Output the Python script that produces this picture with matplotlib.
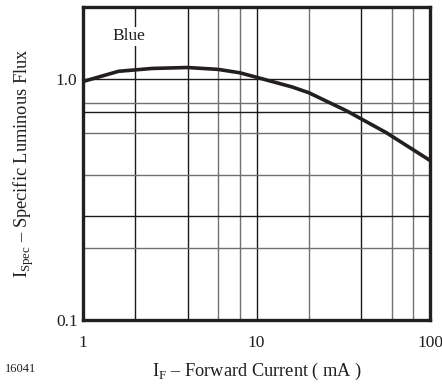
import matplotlib.pyplot as plt

plt.rcParams['font.family'] = ['Liberation Serif', 'DejaVu Serif']
plt.rcParams['mathtext.fontset'] = 'custom'
plt.rcParams['mathtext.rm'] = 'Liberation Serif'

# curve
current_ma = [1, 1.6, 2.5, 4, 6, 8, 10, 16, 20, 33, 56, 100]
rel_flux = [0.98, 1.08, 1.11, 1.12, 1.10, 1.065, 1.02, 0.93, 0.88, 0.74, 0.60, 0.46]

# grid lines as drawn (dark / light)
vgrid_dark = [2, 4, 10, 40]
vgrid_light = [6, 8, 20, 60, 80]
hgrid_dark = [1.0, 0.73, 0.27]
hgrid_light = [0.8, 0.6, 0.4, 0.2]

xticks = [1, 10, 100]
xtick_labels = ['1', '10', '100']
yticks = [0.1, 1.0]
ytick_labels = ['0.1', '1.0']

fig = plt.figure(figsize=(4.42, 3.85), dpi=100)
ax = fig.add_axes([0.188, 0.169, 0.785, 0.813])
ax.set_xscale('log')
ax.set_yscale('log')
ax.set_xlim(1, 100)
ax.set_ylim(0.1, 2.0)

for v in vgrid_dark:
    ax.axvline(v, color='#1a1a1a', lw=1.0, zorder=1)
for v in vgrid_light:
    ax.axvline(v, color='#707070', lw=1.0, zorder=1)
for h in hgrid_dark:
    ax.axhline(h, color='#1a1a1a', lw=1.0, zorder=1)
for h in hgrid_light:
    ax.axhline(h, color='#707070', lw=1.0, zorder=1)

ax.plot(current_ma, rel_flux, color='#231f20', lw=2.6, zorder=3)

ax.text(1.47, 1.51, 'Blue', fontsize=12.5, ha='left', va='center', color='#231f20',
        bbox=dict(facecolor='white', edgecolor='none', pad=1.0), zorder=4)

ax.set_xticks(xticks)
ax.set_xticklabels(xtick_labels)
ax.set_yticks(yticks)
ax.set_yticklabels(ytick_labels)
ax.minorticks_off()
ax.tick_params(length=0, labelsize=12.5, colors='#231f20')
ax.tick_params(axis='x', pad=11)
ax.tick_params(axis='y', pad=4)

for s in ax.spines.values():
    s.set_linewidth(2.4)
    s.set_color('#231f20')
    s.set_zorder(5)

ax.set_xlabel(r'I$_\mathregular{F}$ – Forward Current ( mA )', fontsize=13.2, color='#231f20', labelpad=7)
ax.set_ylabel(r'I$_\mathregular{Spec}$ – Specific Luminous Flux', fontsize=13.2, color='#231f20', labelpad=14)

fig.text(0.012, 0.035, '16041', fontsize=9, color='#231f20')

fig.savefig('out.png', dpi=100)
